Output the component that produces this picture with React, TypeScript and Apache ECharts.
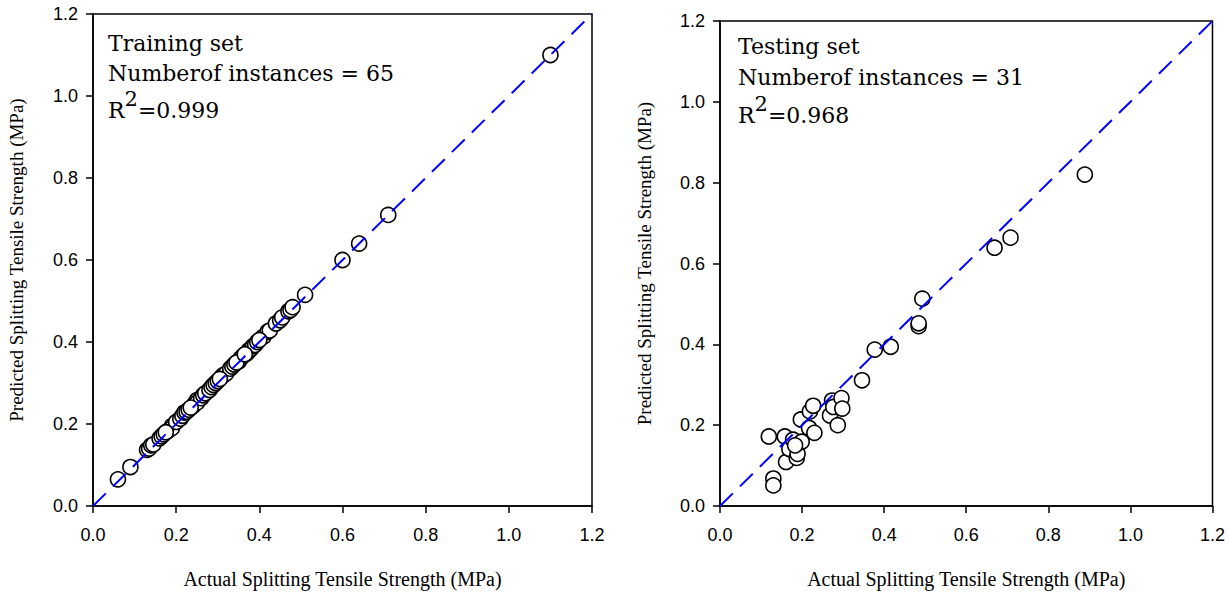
import React, { useEffect, useRef } from "react";
import * as echarts from "echarts";

// Training set (65 instances)
const trainActual = [
  0.06, 0.09, 0.13, 0.135, 0.14, 0.145, 0.16, 0.165, 0.17, 0.18,
  0.19, 0.19, 0.2, 0.21, 0.215, 0.22, 0.225, 0.23, 0.24, 0.245,
  0.25, 0.25, 0.26, 0.265, 0.27, 0.28, 0.285, 0.29, 0.295, 0.3,
  0.31, 0.315, 0.32, 0.33, 0.335, 0.34, 0.35, 0.355, 0.36, 0.37,
  0.375, 0.38, 0.385, 0.39, 0.395, 0.41, 0.42, 0.425, 0.44, 0.45,
  0.455, 0.47, 0.475, 0.48, 0.51, 0.6, 0.64, 0.71, 1.1, 0.175,
  0.235, 0.305, 0.345, 0.365, 0.4,
];
const trainPredicted = [
  0.065, 0.095, 0.137, 0.14, 0.148, 0.15, 0.165, 0.17, 0.175, 0.183,
  0.195, 0.19, 0.205, 0.213, 0.22, 0.228, 0.23, 0.235, 0.243, 0.25,
  0.258, 0.252, 0.263, 0.27, 0.275, 0.283, 0.29, 0.295, 0.3, 0.305,
  0.316, 0.32, 0.323, 0.335, 0.34, 0.345, 0.352, 0.36, 0.365, 0.372,
  0.38, 0.383, 0.39, 0.393, 0.4, 0.413, 0.425, 0.428, 0.445, 0.453,
  0.46, 0.475, 0.478, 0.485, 0.515, 0.6, 0.64, 0.71, 1.1, 0.18,
  0.24, 0.31, 0.35, 0.37, 0.405,
];

// Testing set (31 instances)
const testActual = [
  0.119, 0.13, 0.13, 0.158, 0.161, 0.169, 0.178, 0.187, 0.189, 0.199,
  0.197, 0.217, 0.219, 0.227, 0.23, 0.268, 0.273, 0.276, 0.296, 0.298,
  0.287, 0.346, 0.377, 0.416, 0.493, 0.484, 0.484, 0.669, 0.708, 0.889,
  0.183,
];
const testPredicted = [
  0.172, 0.068, 0.051, 0.172, 0.109, 0.141, 0.164, 0.119, 0.129, 0.159,
  0.214, 0.193, 0.234, 0.248, 0.181, 0.224, 0.261, 0.245, 0.267, 0.241,
  0.2, 0.311, 0.387, 0.394, 0.513, 0.445, 0.452, 0.639, 0.664, 0.82,
  0.15,
];

const identityLine = [0, 1.2];
const axisMin = 0;
const axisMax = 1.2;
const axisStep = 0.2;

const xTitle = "Actual Splitting Tensile Strength (MPa)";
const yTitle = "Predicted Splitting Tensile Strength (MPa)";
const panelTitles = ["Training set", "Testing set"];
const instanceCounts = [65, 31];
const r2Values = ["0.999", "0.968"];

const serif = "'Liberation Serif', 'Times New Roman', serif";
const sans = "'Liberation Sans', Arial, sans-serif";
const annoFont = "'DejaVu Serif', serif";

export default function App() {
  const ref = useRef<HTMLDivElement>(null);

  useEffect(() => {
    if (!ref.current) return;
    const chart = echarts.init(ref.current, undefined, { renderer: "svg" });

    const grids = [
      { left: 93, top: 14, width: 499, height: 492 },
      { left: 720, top: 21, width: 493, height: 485 },
    ];
    const yNameGaps = [67, 66];

    const pairs = (xs: number[], ys: number[]) => xs.map((x, i) => [x, ys[i]]);
    const datasets = [
      pairs(trainActual, trainPredicted),
      pairs(testActual, testPredicted),
    ];

    const annoX = [108, 738];
    const annoY = [[43, 73, 110], [46, 77, 115]];
    const annoSize = 22;

    const graphic: any[] = [];
    for (let i = 0; i < 2; i++) {
      graphic.push({
        type: "text",
        x: annoX[i],
        y: annoY[i][0],
        style: {
          text: panelTitles[i],
          font: `${annoSize}px ${annoFont}`,
          fill: "#000",
          verticalAlign: "middle",
        },
      });
      graphic.push({
        type: "text",
        x: annoX[i],
        y: annoY[i][1],
        style: {
          text: `Numberof instances = ${instanceCounts[i]}`,
          font: `${annoSize}px ${annoFont}`,
          fill: "#000",
          verticalAlign: "middle",
        },
      });
      graphic.push({
        type: "text",
        x: annoX[i],
        y: annoY[i][2],
        style: {
          text: `{n|R}{s|2}{n|=${r2Values[i]}}`,
          verticalAlign: "middle",
          rich: {
            n: { fontFamily: annoFont, fontSize: annoSize, fill: "#000", color: "#000" },
            s: {
              fontFamily: annoFont,
              fontSize: 21,
              fill: "#000",
              color: "#000",
              padding: [0, 0, 22, 0],
            },
          },
        },
      });
    }

    const option: any = {
      animation: false,
      backgroundColor: "#fff",
      grid: grids.map((g) => ({
        ...g,
        show: true,
        borderColor: "#000",
        borderWidth: 1.5,
        backgroundColor: "transparent",
        containLabel: false,
      })),
      xAxis: grids.map((_, i) => ({
        gridIndex: i,
        type: "value",
        min: axisMin,
        max: axisMax,
        interval: axisStep,
        name: xTitle,
        nameLocation: "middle",
        nameGap: 63,
        nameTextStyle: { fontFamily: serif, fontSize: 20, color: "#000" },
        axisLine: { show: true, onZero: false, lineStyle: { color: "#000", width: 1.5 } },
        axisTick: { show: true, inside: false, length: 7, lineStyle: { color: "#000", width: 1.5 } },
        axisLabel: {
          fontFamily: sans,
          fontSize: 18,
          color: "#000",
          margin: 20,
          formatter: (v: number) => v.toFixed(1),
        },
        splitLine: { show: false },
      })),
      yAxis: grids.map((_, i) => ({
        gridIndex: i,
        type: "value",
        min: axisMin,
        max: axisMax,
        interval: axisStep,
        name: yTitle,
        nameLocation: "middle",
        nameGap: yNameGaps[i],
        nameTextStyle: { fontFamily: serif, fontSize: 19, color: "#000" },
        axisLine: { show: true, onZero: false, lineStyle: { color: "#000", width: 1.5 } },
        axisTick: { show: true, inside: false, length: 7, lineStyle: { color: "#000", width: 1.5 } },
        axisLabel: {
          fontFamily: sans,
          fontSize: 18,
          color: "#000",
          margin: 15,
          formatter: (v: number) => v.toFixed(1),
        },
        splitLine: { show: false },
      })),
      series: [
        ...datasets.map((d, i) => ({
          type: "scatter",
          xAxisIndex: i,
          yAxisIndex: i,
          data: d,
          symbol: "circle",
          symbolSize: 15,
          itemStyle: { color: "#fff", borderColor: "#000", borderWidth: 1.6, opacity: 1 },
          z: 3,
        })),
        ...[0, 1].map((i) => ({
          type: "line",
          xAxisIndex: i,
          yAxisIndex: i,
          data: identityLine.map((v) => [v, v]),
          showSymbol: false,
          symbol: "none",
          lineStyle: { color: "#0000ff", width: 2, type: [18, 10] },
          z: 5,
        })),
      ],
      graphic,
    };

    chart.setOption(option);
    return () => chart.dispose();
  }, []);

  return (
    <div
      ref={ref}
      style={{ position: "absolute", left: 0, top: 0, width: 1228, height: 594, background: "#fff" }}
    />
  );
}
